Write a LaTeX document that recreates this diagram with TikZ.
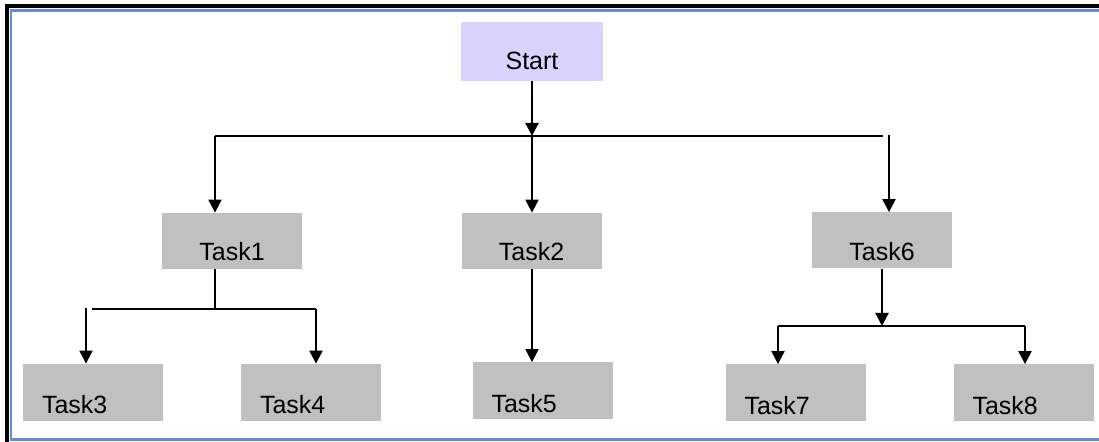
\documentclass[tikz,border=0pt]{standalone}
\usepackage{fontspec}
\setmainfont{Liberation Sans}
\usetikzlibrary{arrows.meta}

\definecolor{startfill}{RGB}{217,211,253}
\definecolor{taskfill}{RGB}{192,192,192}
\definecolor{frameblue}{RGB}{96,142,208}

\begin{document}
\begin{tikzpicture}[
    x=0.5pt, y=-0.5pt,
    every node/.style={font=\fontsize{12.5}{14}\selectfont},
    startbox/.style={fill=startfill, minimum width=71pt, minimum height=29.5pt,
        inner ysep=0pt, text height=18.5pt, text depth=0pt},
    upper/.style={fill=taskfill, minimum width=70pt, minimum height=28pt,
        inner ysep=0pt, text height=20pt, text depth=0pt},
    lower/.style={fill=taskfill, minimum height=28.5pt, inner xsep=9.5pt,
        text width=51pt, align=left, inner ysep=0pt, text height=21.5pt, text depth=0pt},
    arr/.style={-{Triangle[width=6.5pt,length=6.5pt]}, line width=1pt},
    wire/.style={line width=1pt}
]
\useasboundingbox (0,0) rectangle (1099,442);

% Frame
\draw[line width=2pt] (6.5,442) -- (6.5,6.5) -- (1099,6.5);
\draw[frameblue, line width=1.3pt] (1099,10.5) -- (11,10.5) -- (11,439.5) -- (1099,439.5);

% Boxes
\node[startbox] (start) at (532,51.5) {Start};
\node[upper] (task1) at (232,241) {Task1};
\node[upper] (task2) at (531.5,241) {Task2};
\node[upper] (task6) at (882,240.5) {Task6};
\node[lower] (task3) at (93,392.5) {Task3};
\node[lower] (task4) at (311,392.5) {Task4};
\node[lower] (task5) at (542.5,391) {Task5};
\node[lower] (task7) at (795.5,393) {Task7};
\node[lower] (task8) at (1023.5,393) {Task8};

% Branch points
\coordinate (topL) at (215,136);
\coordinate (topM) at (532,136);
\coordinate (topR) at (883,136);
\coordinate (topR2) at (889,135);
\coordinate (leftL) at (92,309);
\coordinate (leftL2) at (86,308);
\coordinate (leftM) at (215,309);
\coordinate (leftR) at (316,309);
\coordinate (rightL) at (778,326);
\coordinate (rightM) at (882,326);
\coordinate (rightR) at (1025,326);

% Start to first row
\draw[arr] (start.south -| topM) -- (topM);
\draw[wire] (topL) -- (topR);
\draw[arr] (topL) -- (topL |- task1.north);
\draw[arr] (topM) -- (topM |- task2.north);
\draw[arr] (topR2) -- (topR2 |- task6.north);

% Task1 branch
\draw[wire] (task1.south -| leftM) -- (leftM);
\draw[wire] (leftL) -- (leftR);
\draw[arr] (leftL2) -- (leftL2 |- task3.north);
\draw[arr] (leftR) -- (leftR |- task4.north);

% Task2 branch
\draw[arr] (task2.south -| topM) -- (topM |- task5.north);

% Task6 branch
\draw[arr] (task6.south -| rightM) -- (rightM);
\draw[wire] (rightL) -- (rightR);
\draw[arr] (rightL) -- (rightL |- task7.north);
\draw[arr] (rightR) -- (rightR |- task8.north);

\end{tikzpicture}
\end{document}
